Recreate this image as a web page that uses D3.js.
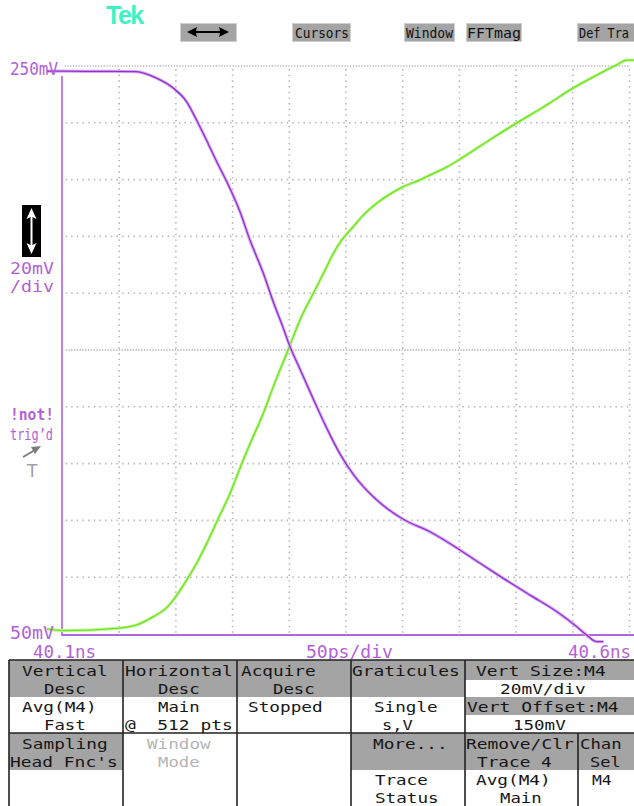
<!DOCTYPE html>
<html>
<head>
<meta charset="utf-8">
<script src="https://cdn.jsdelivr.net/npm/d3@7"></script>
<style>
  body { margin: 0; background: #ffffff; }
  svg { display: block; }
</style>
</head>
<body>
<svg id="scope" width="634" height="806"></svg>
<script>
// ---- Waveform data: time in ps after 40.1 ns, amplitude in mV ----
const fallTimePs = [-14, 0, 33, 65, 83, 97.4, 109.5, 118.3, 127.2, 136, 144.8, 156.5, 165.3, 177.1,
  185.9, 194.7, 200.6, 209.4, 221.2, 233, 244.7, 257.9, 265.3, 274.1, 285.9, 300.5, 324,
  350.5, 368.2, 388.7, 412.3, 435.8, 453.4, 462.3, 471.1, 477];
const fallMilliVolts = [248.2, 248.2, 248.1, 248.0, 245.7, 242.3, 237.4, 230.9, 223.7, 216.3, 209.3, 198.7, 188.7, 177.0,
  166.9, 157.7, 151.2, 143.3, 132.7, 122.5, 113.4, 105.4, 101.9, 98.3, 94.3, 90.4, 86.0,
  79.6, 74.9, 69.6, 63.7, 57.9, 52.6, 49.6, 47.3, 47.3];

const riseTimePs = [-14, 0, 48, 65.4, 80.1, 91.9, 100.7, 109.5, 118.3, 127.2, 136, 147.7, 159.4, 166.8,
  177.1, 185.9, 197.7, 200.6, 209.4, 221.2, 233, 238.5, 246.2, 256.4, 265.3, 277.1, 288.8,
  300.5, 315.3, 324, 338.8, 350.1, 375.2, 400.4, 425.5, 450.2, 471.1, 488.7, 497.5, 504];
const riseMilliVolts = [51.8, 51.2, 52.0, 53.2, 56.1, 59.3, 63.6, 69.0, 74.9, 81.9, 89.5, 99.5, 111.3, 118.3,
  127.7, 137.1, 148.8, 151.7, 160.6, 170.0, 179.3, 183.8, 188.7, 193.4, 197.5, 201.7, 204.9,
  207.5, 209.9, 211.6, 214.4, 217.1, 223.6, 229.9, 235.9, 242.2, 246.8, 250.4, 252.1, 252.1];

// ---- Axis settings and readouts ----
const timeRangePs = [0, 500];          // 10 divisions of 50 ps
const voltRangeMv = [50, 250];         // 10 divisions of 20 mV
const timeLabels = ["40.1ns", "50ps/div", "40.6ns"];
const voltLabels = ["250mV", "50mV"];
const scaleReadout = ["20mV", "/div"];
const triggerReadout = ["!not!", "trig’d"];
const topButtons = ["Cursors", "Window", "FFTmag", "Def Tra"];
const menuText = [
  "Vertical", "Desc", "Avg(M4)", "Fast", "Sampling", "Head Fnc's",
  "Horizontal", "Desc", "Main", "@  512 pts", "Window", "Mode",
  "Acquire", "Desc", "Stopped",
  "Graticules", "Single", "s,V", "More...", "Trace", "Status",
  "Vert Size:M4", "20mV/div", "Vert Offset:M4", "150mV",
  "Remove/Clr", "Trace 4", "Avg(M4)", "Main",
  "Chan", "Sel", "M4"
];

// ---- Colours ----
const PURPLE_TEXT = "#b35fd9";
const PURPLE_AXIS = "#bd80e4";
const PURPLE_CORE = "#9330d2";
const PURPLE_HALO = "#d6adef";
const GREEN_CORE = "#6fe418";
const GREEN_HALO = "#c2f5a0";
const DOT = "#b4b4b4";
const MENU_GRAY = "#a4a4a4";
const MONO = "'DejaVu Sans Mono', 'Liberation Mono', monospace";

const svg = d3.select("#scope");

// Graticule scales
const x = d3.scaleLinear().domain(timeRangePs).range([62.5, 629.5]);
const y = d3.scaleLinear().domain(voltRangeMv).range([634, 66]);

// ---- Graticule ----
const grid = svg.append("g");
const vTicks = d3.range(1, 11).map(i => timeRangePs[0] + i * 50);
const hTicks = d3.range(1, 10).map(i => voltRangeMv[0] + i * 20);

grid.selectAll("line.v").data(vTicks).join("line")
  .attr("x1", d => x(d)).attr("x2", d => x(d))
  .attr("y1", y(250) + 3).attr("y2", y(50))
  .attr("stroke", DOT).attr("stroke-width", 1.6)
  .attr("stroke-dasharray", "1.4,4.28");

grid.selectAll("line.h").data(hTicks).join("line")
  .attr("x1", x(0) + 3).attr("x2", x(500))
  .attr("y1", d => y(d)).attr("y2", d => y(d))
  .attr("stroke", DOT).attr("stroke-width", 1.6)
  .attr("stroke-dasharray", d => d === 150 ? "1.4,1.4" : "1.4,4.27");

// top edge of the graticule
grid.append("line")
  .attr("x1", x(0) + 2).attr("x2", x(500))
  .attr("y1", y(250)).attr("y2", y(250))
  .attr("stroke", DOT).attr("stroke-width", 1.4)
  .attr("stroke-dasharray", "1.2,1.6");

// channel axis lines (left and bottom)
svg.append("line")
  .attr("x1", 62).attr("x2", 62).attr("y1", 76).attr("y2", 635)
  .attr("stroke", PURPLE_AXIS).attr("stroke-width", 2);
svg.append("line")
  .attr("x1", 61).attr("x2", 634).attr("y1", 635).attr("y2", 635)
  .attr("stroke", PURPLE_AXIS).attr("stroke-width", 2);
svg.append("line")
  .attr("x1", 62).attr("x2", 634).attr("y1", 635).attr("y2", 635)
  .attr("stroke", PURPLE_CORE).attr("stroke-width", 1).attr("opacity", 0.6);

// ---- Traces ----
const line = d3.line()
  .x(d => x(d[0]))
  .y(d => y(d[1]))
  .curve(d3.curveMonotoneX);
const fall = d3.zip(fallTimePs, fallMilliVolts);
const rise = d3.zip(riseTimePs, riseMilliVolts);

function trace(data, halo, core) {
  svg.append("path").datum(data).attr("d", line)
    .attr("fill", "none").attr("stroke", halo).attr("stroke-width", 3.2)
    .attr("stroke-linejoin", "round");
  svg.append("path").datum(data).attr("d", line)
    .attr("fill", "none").attr("stroke", core).attr("stroke-width", 1.3)
    .attr("stroke-linejoin", "round");
}
trace(rise, GREEN_HALO, GREEN_CORE);
trace(fall, PURPLE_HALO, PURPLE_CORE);

// ---- Purple readouts ----
function label(txt, x0, base, len, opts = {}) {
  return svg.append("text")
    .attr("x", x0).attr("y", base)
    .attr("textLength", len).attr("lengthAdjust", "spacingAndGlyphs")
    .attr("font-family", MONO)
    .attr("font-size", opts.size || 17.5)
    .attr("font-weight", opts.weight || "normal")
    .attr("fill", opts.fill || PURPLE_TEXT)
    .text(txt);
}
label(voltLabels[0], 10, 75, 48);
label(voltLabels[1], 10, 639, 44);
label(timeLabels[0], 33, 658, 63);
label(timeLabels[1], 306, 658, 87);
label(timeLabels[2], 568, 658, 63);
label(scaleReadout[0], 10, 274, 44, { size: 16.5 });
label(scaleReadout[1], 10, 292, 44, { size: 15 });
label(triggerReadout[0], 10, 420, 44, { size: 16, weight: "bold" });
label(triggerReadout[1], 10, 440, 43, { size: 16 });

// vertical position icon
svg.append("rect").attr("x", 22).attr("y", 205).attr("width", 19).attr("height", 52).attr("fill", "#000");
svg.append("path")
  .attr("d", "M31.5,208 L36.5,219 L32.5,217 L32.5,245 L36.5,243 L31.5,254 L26.5,243 L30.5,245 L30.5,217 L26.5,219 Z")
  .attr("fill", "#fff");

// trigger marker arrow and "T"
svg.append("line").attr("x1", 23).attr("y1", 457).attr("x2", 35).attr("y2", 450)
  .attr("stroke", "#7c7c7c").attr("stroke-width", 2);
svg.append("path").attr("d", "M41,446 L31,447 L35,454 Z").attr("fill", "#7c7c7c");
svg.append("text").attr("x", 27).attr("y", 477)
  .attr("font-family", "'DejaVu Sans', sans-serif").attr("font-size", 17)
  .attr("fill", "#a0a0a0").text("T");

// ---- Header ----
svg.append("text").attr("x", 106).attr("y", 24)
  .attr("font-family", "'Liberation Sans', Arial, sans-serif")
  .attr("font-size", 25).attr("font-weight", "bold")
  .attr("letter-spacing", -1.5).attr("fill", "#3ff2c4").text("Tek");

const buttonBoxes = [[180, 237], [292, 351], [404, 455], [466, 522], [577, 640]];
buttonBoxes.forEach(([a, b]) => {
  svg.append("rect").attr("x", a + 0.5).attr("y", 23.5).attr("width", b - a - 1).attr("height", 18)
    .attr("fill", "#a4a4a4").attr("stroke", "#cfcfcf").attr("stroke-width", 1);
});
// horizontal position arrow
svg.append("path")
  .attr("d", "M187,32 L197,27 L196,31 L220,31 L219,27 L229,32 L219,37 L220,33 L196,33 L197,37 Z")
  .attr("fill", "#000");
const buttonTextPos = [[295, 54], [406, 47], [467, 54], [579, 50]];
topButtons.forEach((t, i) => {
  svg.append("text").attr("x", buttonTextPos[i][0]).attr("y", 38)
    .attr("textLength", buttonTextPos[i][1]).attr("lengthAdjust", "spacingAndGlyphs")
    .attr("font-family", MONO).attr("font-size", 14).attr("fill", "#111").text(t);
});

// ---- Menu panel ----
const menu = svg.append("g");
// gray label cells [x0, x1, y0, y1]
const grayCells = [
  [9, 123, 660, 697], [123, 237, 660, 697], [237, 351, 660, 697], [351, 465, 660, 697],
  [465, 634, 660, 680], [465, 634, 697, 715],
  [9, 123, 733, 770], [351, 465, 733, 770], [465, 578, 733, 770], [578, 634, 733, 770]
];
grayCells.forEach(([a, b, c, d]) => {
  menu.append("rect").attr("x", a).attr("y", c).attr("width", b - a).attr("height", d - c).attr("fill", MENU_GRAY);
});
// cell borders
const borders = [
  [9, 660, 634, 660], [9, 733, 634, 733], [9, 660, 9, 806],
  [123, 660, 123, 806], [237, 660, 237, 806], [351, 660, 351, 806], [465, 660, 465, 806],
  [578, 733, 578, 806]
];
borders.forEach(([a, b, c, d]) => {
  menu.append("line").attr("x1", a).attr("y1", b).attr("x2", c).attr("y2", d)
    .attr("stroke", "#222").attr("stroke-width", 1.6);
});

// text positions for the menu labels (start x, baseline)
const menuPos = [
  [22, 676], [44, 694], [22, 712], [44, 730], [22, 749], [10, 767],
  [125, 676], [158, 694], [158, 712], [125, 730], [147, 749], [158, 767],
  [241, 676], [273, 694], [248, 712],
  [352, 676], [374, 712], [382, 730], [373, 749], [375, 785], [375, 803],
  [476, 676], [500, 694], [467, 712], [513, 730],
  [466, 749], [477, 767], [476, 785], [500, 803],
  [580, 749], [590, 767], [592, 785]
];
menuText.forEach((t, i) => {
  const faded = (i === 10 || i === 11);
  menu.append("text")
    .attr("x", menuPos[i][0]).attr("y", menuPos[i][1])
    .attr("textLength", t.length * 11 - 2.3).attr("lengthAdjust", "spacingAndGlyphs")
    .attr("font-family", MONO).attr("font-size", 14.5)
    .attr("fill", faded ? "#b5b5b5" : "#161616")
    .attr("xml:space", "preserve")
    .text(t);
});
</script>
</body>
</html>
